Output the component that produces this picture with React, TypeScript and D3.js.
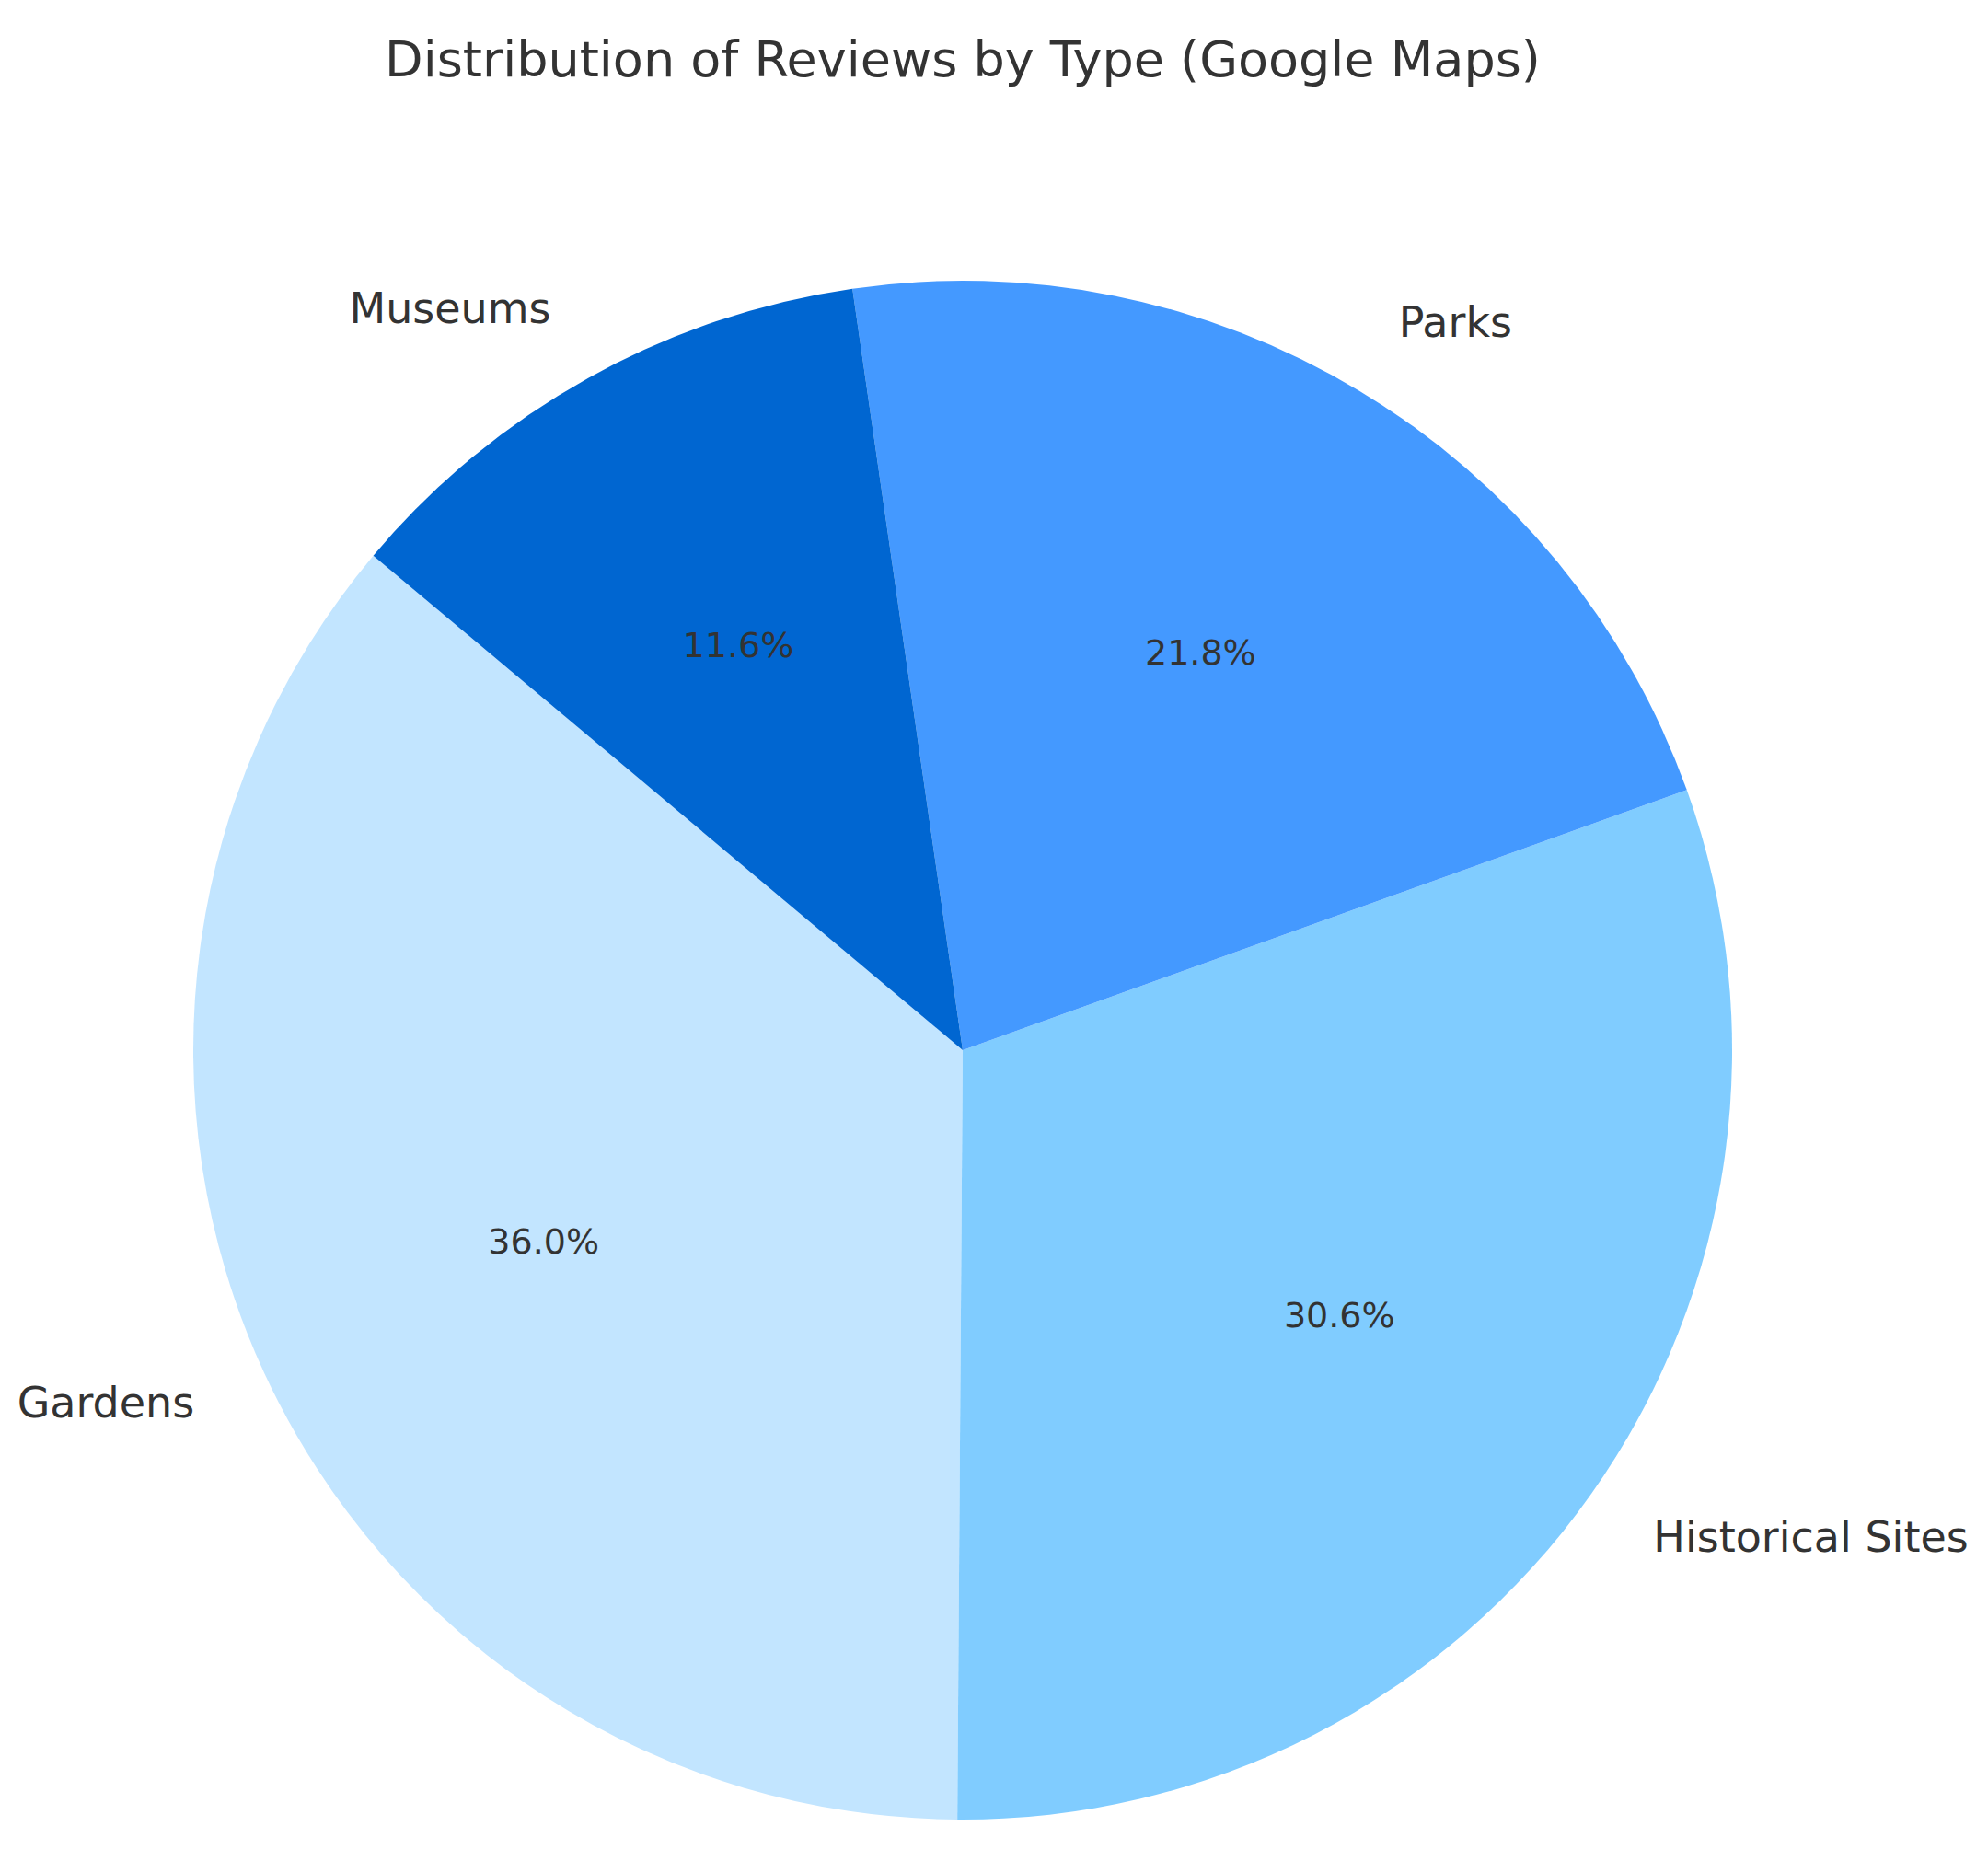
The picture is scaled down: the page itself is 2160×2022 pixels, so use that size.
import React from "react";
import * as d3 from "d3";

// Chart data
const categories = ["Gardens", "Historical Sites", "Parks", "Museums"];
const shares = [36.0, 30.6, 21.8, 11.6];
const colors = ["#c2e5ff", "#80ccff", "#4499ff", "#0066d1"];

const title = "Distribution of Reviews by Type (Google Maps)";

const App = () => {
  const width = 2160,
    height = 2022;
  const cx = 1046,
    cy = 1141,
    radius = 836;

  // matplotlib startangle=140, counterclockwise -> d3 angles (clockwise from 12 o'clock)
  const start = ((90 - 140) * Math.PI) / 180;
  const pie = d3
    .pie<number>()
    .value((d) => d)
    .sort(null)
    .startAngle(start)
    .endAngle(start - 2 * Math.PI);
  const slices = pie(shares);

  const arc = d3.arc<d3.PieArcDatum<number>>().innerRadius(0).outerRadius(radius);
  const labelArc = d3
    .arc<d3.PieArcDatum<number>>()
    .innerRadius(radius * 1.1)
    .outerRadius(radius * 1.1);
  const pctArc = d3
    .arc<d3.PieArcDatum<number>>()
    .innerRadius(radius * 0.6)
    .outerRadius(radius * 0.6);

  const font = "'DejaVu Sans', sans-serif";

  return (
    <svg
      width={width}
      height={height}
      style={{ position: "absolute", left: 0, top: 0, background: "#fff" }}
    >
      <text
        x={cx}
        y={83}
        textAnchor="middle"
        fontFamily={font}
        fontSize={54}
        fill="#333333"
      >
        {title}
      </text>
      <g transform={`translate(${cx},${cy})`}>
        {slices.map((s, i) => (
          <path key={categories[i]} d={arc(s) || ""} fill={colors[i]} />
        ))}
        {slices.map((s, i) => {
          const [x, y] = labelArc.centroid(s);
          return (
            <text
              key={"l" + i}
              x={x}
              y={y - 3}
              textAnchor={x > 0 ? "start" : "end"}
              dominantBaseline="central"
              fontFamily={font}
              fontSize={46}
              fill="#333333"
            >
              {categories[i]}
            </text>
          );
        })}
        {slices.map((s, i) => {
          const [x, y] = pctArc.centroid(s);
          return (
            <text
              key={"p" + i}
              x={x}
              y={y - 2}
              textAnchor="middle"
              dominantBaseline="central"
              fontFamily={font}
              fontSize={38}
              fill="#333333"
            >
              {s.data.toFixed(1)}%
            </text>
          );
        })}
      </g>
    </svg>
  );
};

export default App;
